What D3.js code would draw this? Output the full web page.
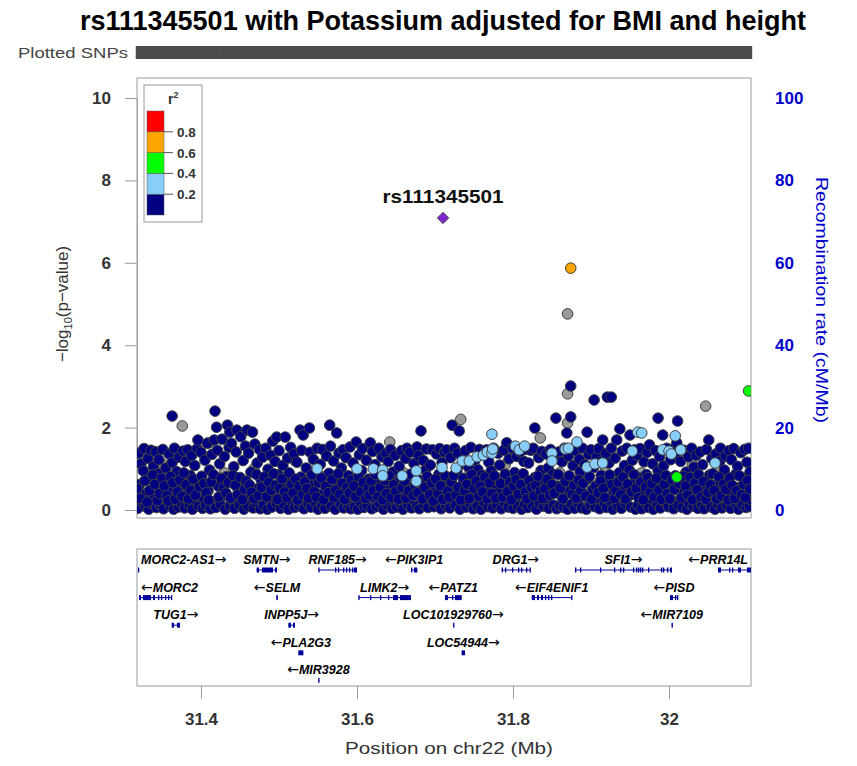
<!DOCTYPE html>
<html><head><meta charset="utf-8">
<script src="https://cdn.jsdelivr.net/npm/d3@7"></script>
<style>body{margin:0;background:#fff} text{font-family:"Liberation Sans",Arial,sans-serif}</style>
</head><body><svg id="c" width="857" height="766"></svg>
<script>
// ---------------- data ----------------
const title = "rs111345501 with Potassium adjusted for BMI and height";
const leadSnp = {name: "rs111345501", kb: 710.3, logp: 7.09};
const xTicks = [31.4, 31.6, 31.8, 32.0];
const xTickLabels = ["31.4", "31.6", "31.8", "32"];
const yTicks = [0, 2, 4, 6, 8, 10];
const recombTicks = [0, 20, 40, 60, 80, 100];
const ldBreaks = [0.2, 0.4, 0.6, 0.8];
const ldLabels = ["0.2", "0.4", "0.6", "0.8"];
const ldColors = ["#000080", "#87CEFA", "#00FF00", "#FFA500", "#FF0000"];
// SNPs: [position in kb beyond 31 Mb on chr22, -log10 p]
const snpsNoLD = [[325,0.30],[352,1.10],[371,0.60],[376,2.04],[395,0.45],[410,1.63],[430,0.90],[447,0.25],[468,1.00],[485,0.40],[503,0.70],[520,1.20],[540,0.30],[556,0.80],[585,0.10],[611,0.45],[642,1.65],[660,0.90],[690,0.30],[704,0.60],[733,2.20],[745,0.95],[770,0.35],[790,1.10],[810,0.25],[835,1.75],[860,0.90],[870,2.11],[870,2.82],[870,4.76],[890,0.30],[918,1.05],[940,0.40],[965,0.90],[990,0.60],[1012,0.35],[1030,1.10],[1047,2.52],[1062,0.95],[1085,0.40],[1103,0.20]];
const snpsLD0 = [
[319,0.04],[320,1.38],[321,0.62],[323,1.12],[324,0.21],[326,0.95],[327,1.49],[329,0.08],[330,0.41],[332,1.25],[333,0.02],[335,0.78],[336,1.45],[337,0.15],
[339,1.05],[340,0.33],[342,1.41],[343,0.06],[345,0.88],[346,1.22],[348,0.12],[349,0.55],[351,1.47],[352,0.03],[354,0.27],[355,1.02],[357,0.69],
[359,1.36],[360,0.10],[362,0.47],[363,1.15],[363,2.28],[365,0.02],[366,1.50],[368,0.31],[369,0.93],[371,0.07],[372,1.28],[374,0.18],[375,0.60],[377,1.43],
[379,0.05],[380,1.18],[382,0.38],[383,1.46],[385,0.13],[386,0.84],[388,1.32],[389,0.02],[391,0.52],[392,1.08],[394,0.21],[395,1.49],[396,1.70],[397,0.09],
[399,0.72],[400,1.40],[402,0.04],[403,0.29],[405,1.21],[406,0.11],[408,1.62],[409,0.46],[411,0.97],[412,0.03],[414,1.35],[415,0.19],[417,1.70],[418,2.40],
[419,0.06],[420,2.01],[421,1.45],[422,0.58],[424,1.12],[425,0.14],[427,1.72],[428,0.35],[430,1.30],[431,0.02],[433,0.81],[434,2.06],[436,1.52],[437,1.89],[437,0.10],
[439,1.62],[440,0.24],[442,1.05],[443,0.04],[445,1.41],[446,1.94],[448,0.47],[449,0.12],[451,1.78],[452,0.66],[454,1.20],[455,0.02],[457,1.55],
[459,1.94],[460,0.09],[461,1.38],[463,0.30],[464,0.92],[466,1.89],[467,0.05],[469,1.60],[470,0.18],[472,1.14],[473,0.52],[475,1.47],[476,0.03],[477,0.74],
[479,1.28],[480,0.11],[482,0.63],[483,1.50],[485,0.02],[486,0.99],[488,0.27],[489,1.33],[491,0.07],[492,1.67],[494,0.42],[495,1.18],[497,1.77],[497,0.16],
[499,0.86],[500,1.44],[502,0.04],[503,0.35],[505,1.08],[506,0.13],[508,1.77],[509,0.58],[511,1.26],[512,0.02],[514,0.71],[515,1.52],[517,0.20],
[519,1.36],[520,0.06],[522,0.49],[523,1.16],[525,0.10],[527,1.94],[528,0.80],[529,1.45],[531,1.82],[532,0.03],[534,0.31],[535,1.02],[537,0.15],
[539,1.99],[540,1.40],[541,0.07],[543,0.62],[544,1.23],[546,0.19],[547,0.94],[549,1.50],[550,0.02],[552,0.38],[553,1.11],[555,0.11],[556,1.47],[558,0.72],
[559,0.04],[561,1.31],[562,0.26],[564,0.89],[565,2.06],[566,1.55],[567,0.09],[569,0.50],[570,1.19],[572,0.02],[574,1.87],[575,0.67],[577,1.38],
[579,0.14],[580,1.02],[582,1.46],[583,0.05],[585,0.44],[586,1.27],[588,0.12],[589,0.83],[591,1.53],[592,0.03],[594,0.35],[595,1.14],[597,0.08],
[599,1.65],[600,0.57],[601,0.02],[603,1.34],[604,0.20],[606,0.96],[607,1.49],[609,0.06],[610,0.41],[612,1.21],[613,0.10],[615,0.75],[617,1.63],
[619,0.03],[620,1.42],[622,0.29],[623,1.10],[625,0.08],[626,0.63],[628,1.50],[629,0.15],[631,0.88],[632,1.29],[634,0.02],[635,0.46],[637,1.37],
[639,0.11],[640,1.18],[642,0.53],[643,1.47],[645,0.04],[646,0.92],[648,0.23],[649,1.33],[651,0.07],[652,0.70],[654,1.06],[655,0.17],[657,1.44],
[659,0.02],[660,0.38],[662,1.25],[664,1.50],[665,0.12],[667,0.81],[668,1.40],[670,0.05],[671,0.56],[673,1.13],[674,0.21],[677,1.53],[677,0.09],
[679,1.32],[680,0.03],[682,1.92],[683,0.44],[685,1.20],[686,0.13],[688,0.97],[689,1.48],[691,0.06],[692,0.62],[694,1.09],[695,0.25],[697,1.46],
[699,0.08],[700,0.51],[702,1.36],[703,0.16],[705,0.87],[706,1.49],[708,0.03],[709,1.15],[711,0.34],[712,1.41],[714,0.10],[715,1.46],[717,0.69],
[719,0.05],[720,1.27],[722,2.06],[723,0.46],[725,1.50],[726,0.12],[728,0.94],[729,1.38],[731,1.92],[732,0.02],[734,0.58],[735,1.12],[737,0.20],
[739,1.44],[740,0.07],[742,0.33],[743,1.05],[745,0.15],[746,1.52],[748,0.66],[749,0.03],[751,1.20],[752,0.41],[754,0.10],[755,0.98],[757,1.47],
[759,0.02],[760,0.85],[762,1.33],[763,0.19],[765,0.54],[766,1.46],[768,0.08],[769,1.16],[771,0.30],[772,0.95],[774,0.05],[775,1.50],[777,0.61],[781,1.38],
[779,0.12],[782,0.42],[783,1.09],[785,0.03],[786,0.77],[788,1.45],[789,0.18],[791,0.60],[792,1.63],[794,0.07],[795,1.24],[797,0.36],
[799,1.50],[800,0.04],[802,0.91],[803,0.22],[805,1.30],[806,0.09],[808,0.68],[809,1.41],[811,0.02],[812,0.48],[814,1.18],[815,0.14],[817,1.47],
[819,0.06],[820,1.14],[822,0.37],[823,1.45],[825,0.11],[826,1.50],[828,1.99],[828,0.79],[830,0.02],[831,0.53],[833,1.27],[834,0.16],[836,0.96],[837,1.42],
[839,0.09],[840,0.64],[842,1.36],[843,0.20],[845,1.02],[846,0.04],[848,1.47],[849,0.43],[851,0.87],[852,0.12],[854,1.25],[855,2.23],[856,0.03],[857,0.58],
[859,1.41],[860,0.10],[862,0.35],[863,1.17],[865,0.06],[866,1.50],[868,0.72],[869,1.87],[870,0.02],[871,1.31],[873,0.46],[874,2.26],[874,3.01],[875,0.14],[877,1.08],
[879,0.04],[880,1.44],[882,0.62],[883,0.17],[885,1.23],[886,0.93],[888,0.05],[889,1.50],[891,0.39],[892,1.10],[894,0.02],[895,1.89],[896,0.76],[897,1.35],
[899,0.13],[900,1.46],[902,0.50],[903,1.03],[904,2.67],[905,0.08],[907,1.28],[908,0.29],[910,1.49],[911,0.03],[913,0.84],[914,1.19],[915,1.70],[917,0.16],
[919,1.37],[920,0.06],[921,2.74],[922,0.71],[923,1.14],[925,0.21],[926,2.74],[926,1.50],[928,0.02],[929,0.45],[931,1.26],[933,1.70],[934,0.10],[936,0.90],[937,1.97],
[939,0.04],[940,1.43],[942,0.55],[943,1.08],[945,0.15],[946,1.50],[948,0.33],[949,0.97],[950,1.82],[951,0.07],[953,1.21],[954,0.64],[956,1.46],[957,0.02],
[959,1.33],[960,0.11],[962,0.78],[963,1.49],[965,0.03],[966,0.42],[968,1.17],[969,0.19],[971,0.86],[972,1.40],[974,0.06],[975,1.58],[977,0.27],
[979,1.12],[980,0.02],[982,0.59],[983,1.44],[985,0.13],[986,2.23],[986,0.95],[988,1.30],[989,0.05],[991,0.37],[992,1.82],[993,1.07],[995,0.17],[997,1.50],
[999,0.08],[1000,0.66],[1002,1.22],[1003,0.24],[1005,1.48],[1006,0.03],[1008,0.83],[1009,1.36],[1010,1.63],[1011,2.16],[1012,0.11],[1014,0.48],[1015,1.18],[1017,0.06],
[1019,1.45],[1020,0.31],[1022,0.92],[1023,0.02],[1025,1.29],[1026,0.15],[1028,0.57],[1029,1.50],[1031,0.09],[1032,1.04],[1034,0.40],[1035,1.33],[1037,0.04],
[1039,0.74],[1040,1.41],[1042,0.12],[1043,1.10],[1045,0.03],[1046,0.51],[1048,1.47],[1049,0.20],[1051,1.70],[1052,0.85],[1054,0.07],[1055,1.25],[1057,0.36],
[1059,0.02],[1060,1.36],[1062,0.63],[1063,0.14],[1065,1.18],[1066,1.50],[1068,0.05],[1069,0.44],[1071,0.97],[1072,1.31],[1074,0.10],[1075,0.70],[1077,1.44],
[1079,0.04],[1080,1.22],[1082,0.35],[1083,1.49],[1085,0.17],[1086,0.88],[1088,1.06],[1089,0.02],[1091,0.55],[1092,1.39],[1094,0.12],[1095,0.79],[1097,1.47],
[1099,0.06],[1100,1.16],[1101,0.42],[1102,1.50],[1103,0.09],[1104,0.93],[1105,0.25],
[318,0.52],[322,0.28],[328,0.71],[331,0.19],[334,0.47],[338,0.85],[341,0.62],[344,0.23],[347,0.40],[350,0.77],[353,0.58],[356,0.35],[358,0.22],[361,0.81],[364,0.66],[367,0.26],[370,0.44],[373,0.73],[376,0.33],[378,0.90],[381,0.61],[384,0.27],[387,0.48],[390,0.75],[393,0.36],[398,0.56],
[401,0.82],[404,0.64],[407,0.42],[410,0.24],[413,0.68],[416,0.86],[423,0.32],[426,0.77],[429,0.55],[432,0.41],[435,0.66],[438,0.29],[441,0.84],[444,0.60],[447,0.37],[450,0.79],[453,0.25],[456,0.50],[458,0.70],[462,0.61],[465,0.43],[468,0.27],[471,0.86],[474,0.35],[478,0.55],[481,0.80],[484,0.32],[487,0.67],[490,0.48],[493,0.88],[496,0.60],[498,0.26],
[501,0.53],[504,0.76],[507,0.44],[510,0.30],[513,0.90],[516,0.62],[518,0.41],[521,0.75],[524,0.24],[526,0.58],[530,0.37],[533,0.68],[536,0.52],[538,0.29],[542,0.85],[545,0.45],[548,0.31],[551,0.66],[554,0.78],[557,0.25],[560,0.57],[563,0.42],[568,0.74],[571,0.30],[573,0.48],[576,0.88],[578,0.38],[581,0.65],[584,0.26],[587,0.55],[590,0.41],[593,0.73],[596,0.58],[598,0.32],
[602,0.81],[605,0.44],[608,0.67],[611,0.28],[614,0.53],[616,0.36],[618,0.70],[621,0.47],[624,0.86],[627,0.33],[630,0.55],[633,0.25],[636,0.72],[638,0.40],[641,0.84],[644,0.30],[647,0.61],[650,0.45],[653,0.26],[656,0.78],[658,0.54],[661,0.71],[663,0.29],[666,0.46],[669,0.87],[672,0.35],[675,0.60],[678,0.42],[681,0.72],[684,0.27],[687,0.55],[690,0.81],[693,0.37],[696,0.66],[698,0.22],
[701,0.75],[704,0.40],[707,0.59],[710,0.26],[713,0.83],[716,0.45],[718,0.31],[721,0.68],[724,0.84],[727,0.36],[730,0.55],[733,0.24],[736,0.77],[738,0.47],[741,0.62],[744,0.28],[747,0.86],[750,0.52],[753,0.70],[756,0.33],[758,0.58],[761,0.44],[764,0.80],[767,0.27],[770,0.66],[773,0.40],[776,0.83],[778,0.29],[784,0.64],[787,0.31],[790,0.87],[793,0.45],[796,0.68],[798,0.25],
[801,0.58],[804,0.74],[807,0.38],[810,0.62],[813,0.88],[816,0.44],[818,0.27],[821,0.71],[824,0.55],[827,0.34],[829,0.60],[832,0.82],[835,0.46],[838,0.28],[841,0.52],[844,0.75],[847,0.36],[850,0.62],[853,0.41],[858,0.86],[861,0.54],[864,0.27],[867,0.69],[872,0.83],[876,0.38],[878,0.60],[881,0.29],[884,0.73],[887,0.48],[890,0.65],[893,0.34],[898,0.81],
[901,0.26],[906,0.58],[909,0.42],[912,0.70],[916,0.52],[918,0.30],[924,0.85],[927,0.62],[930,0.28],[932,0.47],[935,0.68],[938,0.38],[941,0.80],[944,0.27],[947,0.63],[952,0.44],[955,0.86],[958,0.52],[961,0.30],[964,0.68],[967,0.25],[970,0.56],[973,0.79],[976,0.43],[978,0.64],[981,0.32],[984,0.77],[987,0.48],[990,0.26],[994,0.62],[996,0.84],[998,0.40],
[1001,0.27],[1004,0.73],[1007,0.50],[1013,0.64],[1016,0.30],[1018,0.82],[1021,0.58],[1024,0.36],[1027,0.79],[1030,0.25],[1033,0.66],[1036,0.49],[1038,0.86],[1041,0.31],[1044,0.69],[1047,0.26],[1050,0.43],[1053,0.61],[1056,0.88],[1058,0.47],[1061,0.27],[1064,0.80],[1067,0.34],[1070,0.63],[1073,0.50],[1076,0.24],[1078,0.78],[1081,0.60],[1084,0.28],[1087,0.47],[1090,0.83],[1093,0.37],[1096,0.62],[1098,0.30],[1101,0.72],[1104,0.51]];
const snpsLD1 = [[549,1.00],[600,1.00],[621,1.00],[633,0.97],[633,0.83],[658,0.83],[676,0.95],[676,0.70],[709,1.03],[727,1.02],[735,1.19],[744,1.19],[754,1.29],[762,1.33],[767,1.41],[773,1.38],[774,1.48],[773,1.84],[803,1.55],[808,1.46],[815,1.55],[850,1.38],[850,1.19],[867,1.48],[871,1.50],[882,1.65],[895,1.04],[905,1.12],[915,1.14],[953,1.43],[960,1.89],[965,1.87],[992,1.46],[1000,1.43],[1003,1.36],[1008,1.80],[1015,1.46],[1059,1.14]];
const snpsLD2 = [[1010,0.80],[1102,2.89]];
const snpsLD3 = [[874,5.87]];
const snpsLD4 = [];
// genes: [name, strand, row, start Mb, end Mb, exons]
const genes = [
 ["MORC2-AS1","+",0,31.3192,31.3205,[[31.3192,31.3205]]],
 ["SMTN","+",0,31.4714,31.4974,[[31.4714,31.4744],[31.4782,31.4923],[31.4949,31.4974]]],
 ["RNF185","+",0,31.5504,31.6000,[[31.5504,31.5510],[31.5718,31.5724],[31.5756,31.5762],[31.5821,31.5827],[31.5859,31.5865],[31.5897,31.5903],[31.5936,31.5942],[31.5962,31.6000]]],
 ["PIK3IP1","-",0,31.6692,31.6773,[[31.6692,31.6705],[31.6731,31.6773]]],
 ["DRG1","+",0,31.7855,31.8218,[[31.7855,31.7861],[31.7897,31.7903],[31.7987,31.7993],[31.8064,31.8070],[31.8103,31.8109],[31.8167,31.8173],[31.8212,31.8218]]],
 ["SFI1","+",0,31.8795,32.0038,[[31.8795,31.8801],[31.8859,31.8865],[31.9115,31.9121],[31.9295,31.9301],[31.9372,31.9378],[31.9410,31.9416],[31.9538,31.9544],[31.9577,31.9583],[31.9603,31.9609],[31.9628,31.9634],[31.9654,31.9660],[31.9731,31.9737],[31.9897,31.9903],[31.9923,31.9929],[31.9974,31.9980],[32.0013,32.0038]]],
 ["PRR14L","-",0,32.0628,32.1150,[[32.0628,32.0667],[32.0769,32.0775],[32.0808,32.0814],[32.0885,32.0923],[32.1000,32.1064]]],
 ["MORC2","-",1,31.3205,31.3628,[[31.3205,31.3231],[31.3256,31.3359],[31.3385,31.3410],[31.3449,31.3455],[31.3487,31.3500],[31.3538,31.3544],[31.3577,31.3583],[31.3615,31.3628]]],
 ["SELM","-",1,31.4965,31.4985,[[31.4965,31.4985]]],
 ["LIMK2","+",1,31.6017,31.6692,[[31.6017,31.6023],[31.6167,31.6173],[31.6295,31.6301],[31.6397,31.6403],[31.6462,31.6526],[31.6551,31.6692]]],
 ["PATZ1","-",1,31.7128,31.7342,[[31.7128,31.7167],[31.7218,31.7224],[31.7256,31.7342]]],
 ["EIF4ENIF1","-",1,31.8240,31.8752,[[31.8240,31.8282],[31.8308,31.8333],[31.8359,31.8385],[31.8410,31.8416],[31.8449,31.8455],[31.8487,31.8493],[31.8746,31.8752]]],
 ["PISD","-",1,32.0013,32.0115,[[32.0013,32.0051],[32.0077,32.0083],[32.0103,32.0115]]],
 ["TUG1","+",2,31.3625,31.3731,[[31.3625,31.3654],[31.3692,31.3731]]],
 ["INPP5J","+",2,31.5120,31.5205,[[31.5120,31.5154],[31.5180,31.5205]]],
 ["LOC101929760","+",2,31.7232,31.7240,[[31.7232,31.7240]]],
 ["MIR7109","-",2,32.0033,32.0038,[[32.0033,32.0038]]],
 ["PLA2G3","-",3,31.5248,31.5312,[[31.5248,31.5312]]],
 ["LOC54944","+",3,31.7342,31.7385,[[31.7342,31.7385]]],
 ["MIR3928","-",4,31.5503,31.5508,[[31.5503,31.5508]]]
];

// ---------------- layout ----------------
const svg = d3.select("#c");
const L = 137, R = 751, PT = 78, PB = 518, GT = 549, GB = 686;
const x = d3.scaleLinear().domain([31.31795, 32.10513]).range([L, R]);
const y = d3.scaleLinear().domain([0, 10]).range([510, 98]);
const yR = d3.scaleLinear().domain([0, 100]).range([510, 98]);
const pos = kb => 31 + kb / 1000;
const ink = "#333";

// title
svg.append("text").attr("x", 443).attr("y", 30).attr("text-anchor", "middle")
  .attr("font-size", 27).attr("font-weight", "bold").attr("fill", "#000")
  .attr("textLength", 726).attr("lengthAdjust", "spacingAndGlyphs").text(title);

// plotted SNPs bar
svg.append("text").attr("x", 18).attr("y", 58).attr("font-size", 15).attr("fill", "#444")
  .attr("textLength", 110).attr("lengthAdjust", "spacingAndGlyphs").text("Plotted SNPs");
const allSnps = [].concat(snpsNoLD, snpsLD0, snpsLD1, snpsLD2, snpsLD3, snpsLD4, [[leadSnp.kb, leadSnp.logp]]);
svg.append("g").selectAll("line").data(allSnps).join("line")
  .attr("x1", d => x(pos(d[0]))).attr("x2", d => x(pos(d[0])))
  .attr("y1", 46).attr("y2", 59).attr("stroke", "#4d4d4d").attr("stroke-width", 2.6);

// clip
const defs = svg.append("defs");
defs.append("clipPath").attr("id", "pclip").append("rect").attr("x", L).attr("y", PT).attr("width", R - L).attr("height", PB - PT);
defs.append("clipPath").attr("id", "gclip").append("rect").attr("x", L).attr("y", GT).attr("width", R - L).attr("height", GB - GT);

// left axis
const yAxis = svg.append("g").attr("transform", `translate(${L},0)`)
  .call(d3.axisLeft(y).tickValues(yTicks).tickSize(12).tickPadding(14).tickFormat(d3.format("d")));
yAxis.select(".domain").attr("stroke", "#999");
yAxis.selectAll(".tick line").attr("stroke", "#999");
yAxis.selectAll("text").attr("font-size", 17).attr("font-weight", "bold").attr("fill", ink)
  .attr("font-family", '"Liberation Sans",Arial,sans-serif');
const yl = svg.append("text").attr("transform", "translate(68,304) rotate(-90)").attr("text-anchor", "middle")
  .attr("font-size", 17).attr("fill", ink);
yl.append("tspan").text("\u2212log");
yl.append("tspan").attr("font-size", 11).attr("dy", 4).text("10");
yl.append("tspan").attr("dy", -4).text("(p\u2212value)");

// right axis
const yRAxis = svg.append("g").attr("transform", `translate(${R},0)`)
  .call(d3.axisRight(yR).tickValues(recombTicks).tickSize(0).tickPadding(24));
yRAxis.select(".domain").remove();
yRAxis.selectAll("text").attr("font-size", 17).attr("font-weight", "bold").attr("fill", "#0000CC")
  .attr("font-family", '"Liberation Sans",Arial,sans-serif');
svg.append("text").attr("transform", "translate(816,300) rotate(90)").attr("text-anchor", "middle")
  .attr("font-size", 17).attr("fill", "#0000CC").attr("textLength", 246).attr("lengthAdjust", "spacingAndGlyphs")
  .text("Recombination rate (cM/Mb)");

// plot frame
svg.append("rect").attr("x", L).attr("y", PT).attr("width", R - L).attr("height", PB - PT)
  .attr("fill", "none").attr("stroke", "#aaa").attr("stroke-width", 1.2);

// points
const pg = svg.append("g").attr("clip-path", "url(#pclip)");
function drawPts(arr, fill) {
  pg.append("g").selectAll("circle").data(arr).join("circle")
    .attr("cx", d => x(pos(d[0]))).attr("cy", d => y(d[1])).attr("r", 5.3)
    .attr("fill", fill).attr("stroke", "#404040").attr("stroke-width", 1);
}
drawPts(snpsNoLD, "#9a9a9a");
drawPts(snpsLD0, ldColors[0]);
drawPts(snpsLD1, ldColors[1]);
drawPts(snpsLD2, ldColors[2]);
drawPts(snpsLD3, ldColors[3]);
drawPts(snpsLD4, ldColors[4]);
const lx = x(pos(leadSnp.kb)), ly = y(leadSnp.logp);
pg.append("path").attr("d", d3.symbol(d3.symbolSquare, 66)()).attr("transform", `translate(${lx},${ly}) rotate(45)`)
  .attr("fill", "#7D26CD").attr("stroke", "#404040").attr("stroke-width", 0.8);
svg.append("text").attr("x", lx).attr("y", ly - 15).attr("text-anchor", "middle").attr("font-size", 18)
  .attr("font-weight", "bold").attr("fill", "#111").attr("textLength", 121).attr("lengthAdjust", "spacingAndGlyphs")
  .text(leadSnp.name);

// legend
const lg = svg.append("g");
lg.append("rect").attr("x", 144).attr("y", 85).attr("width", 58).attr("height", 137)
  .attr("fill", "#fff").attr("stroke", "#999");
const ly2 = d3.scaleLinear().domain([0, 1]).range([215, 111]);
const bins = [0, 0.2, 0.4, 0.6, 0.8];
lg.selectAll("rect.c").data(bins).join("rect").attr("class", "c")
  .attr("x", 147).attr("width", 17).attr("y", d => ly2(d + 0.2)).attr("height", d => ly2(d) - ly2(d + 0.2))
  .attr("fill", (d, i) => ldColors[i]).attr("stroke", "#555").attr("stroke-width", 0.5);
lg.selectAll("line.t").data(ldBreaks).join("line").attr("class", "t")
  .attr("x1", 164).attr("x2", 173).attr("y1", d => ly2(d)).attr("y2", d => ly2(d)).attr("stroke", "#555");
lg.selectAll("text.t").data(ldBreaks).join("text").attr("class", "t")
  .attr("x", 177).attr("y", d => ly2(d) + 5).attr("font-size", 13.5).attr("font-weight", "bold").attr("fill", ink)
  .text((d, i) => ldLabels[i]);
const r2 = lg.append("text").attr("x", 168).attr("y", 104).attr("font-size", 14).attr("font-weight", "bold").attr("fill", ink);
r2.append("tspan").text("r");
r2.append("tspan").attr("font-size", 9).attr("dy", -6).text("2");

// gene panel
svg.append("rect").attr("x", L).attr("y", GT).attr("width", R - L).attr("height", GB - GT)
  .attr("fill", "none").attr("stroke", "#aaa").attr("stroke-width", 1.2);
const gg = svg.append("g");
const gcol = "#000099";
const rowStep = 27.6;
genes.forEach(g => {
  const [name, strand, row, s, e, exons] = g;
  const gy = 570 + row * rowStep;
  const body = gg.append("g").attr("clip-path", "url(#gclip)");
  body.append("line").attr("x1", x(s)).attr("x2", Math.max(x(e), x(s) + 1)).attr("y1", gy).attr("y2", gy)
    .attr("stroke", gcol).attr("stroke-width", 1);
  body.selectAll("rect").data(exons).join("rect")
    .attr("x", d => x(d[0])).attr("width", d => Math.max(1.3, x(d[1]) - x(d[0])))
    .attr("y", gy - 2.5).attr("height", 5).attr("fill", gcol);
  const t = gg.append("text").attr("y", gy - 6).attr("font-size", 12.5).attr("font-weight", "bold")
    .attr("font-style", "italic").attr("fill", "#000");
  const arrow = () => t.append("tspan").attr("font-family", '"DejaVu Sans",sans-serif').attr("font-weight", "normal")
    .attr("font-style", "normal").attr("font-size", 14);
  if (strand === "+") { t.append("tspan").text(name); arrow().text("\u2192"); }
  else { arrow().text("\u2190"); t.append("tspan").text(name); }
  const w = t.node().getComputedTextLength();
  const cx = (Math.max(x(s), L) + Math.min(x(e), R)) / 2;
  let lx0 = cx - w / 2;
  lx0 = Math.max(L + 4, Math.min(R - 3 - w, lx0));
  t.attr("x", lx0);
});

// x axis
const xAxis = svg.append("g").attr("transform", `translate(0,${GB})`)
  .call(d3.axisBottom(x).tickValues(xTicks).tickSize(13).tickPadding(14).tickFormat((d, i) => xTickLabels[i]));
xAxis.select(".domain").remove();
xAxis.selectAll(".tick line").attr("stroke", "#999");
xAxis.selectAll("text").attr("font-size", 17).attr("font-weight", "bold").attr("fill", ink)
  .attr("font-family", '"Liberation Sans",Arial,sans-serif');
svg.append("text").attr("x", 449).attr("y", 754).attr("text-anchor", "middle").attr("font-size", 17)
  .attr("fill", ink).attr("textLength", 208).attr("lengthAdjust", "spacingAndGlyphs").text("Position on chr22 (Mb)");
</script></body></html>
